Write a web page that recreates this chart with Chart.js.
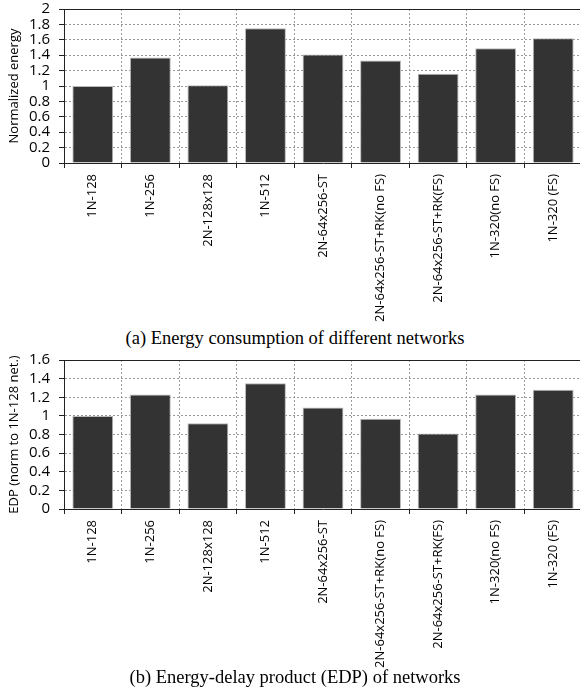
<!DOCTYPE html>
<html>
<head>
<meta charset="utf-8">
<script src="https://cdn.jsdelivr.net/npm/chart.js@4/dist/chart.umd.min.js"></script>
<style>
html,body{margin:0;padding:0;background:#fff;width:580px;height:692px;overflow:hidden;position:relative;}
.wrap{position:absolute;left:0;}
.cap{position:absolute;left:0;width:590px;text-align:center;font-family:"Liberation Serif","Times New Roman",serif;font-size:18.5px;color:#000;white-space:nowrap;}
</style>
</head>
<body>
<div class="wrap" id="w1" style="top:0;width:584px;height:323px;"><canvas id="c1"></canvas></div>
<div class="cap" style="top:328px;">(a) Energy consumption of different networks</div>
<div class="wrap" id="w2" style="top:350px;width:584px;height:319px;"><canvas id="c2"></canvas></div>
<div class="cap" style="top:667px;">(b) Energy-delay product (EDP) of networks</div>
<script>
const categories = ['1N-128','1N-256','2N-128x128','1N-512','2N-64x256-ST','2N-64x256-ST+RK(no FS)','2N-64x256-ST+RK(FS)','1N-320(no FS)','1N-320 (FS)'];
const energyValues = [1.0, 1.37, 1.01, 1.75, 1.41, 1.33, 1.16, 1.49, 1.62];
const edpValues = [1.0, 1.23, 0.92, 1.35, 1.09, 0.97, 0.81, 1.23, 1.28];
const energyTicks = ['0','0.2','0.4','0.6','0.8','1','1.2','1.4','1.6','1.8','2'];
const edpTicks = ['0','0.2','0.4','0.6','0.8','1','1.2','1.4','1.6'];
const energyTitle = 'Normalized energy';
const edpTitle = 'EDP (norm to 1N-128 net.)';

const topBorder = {
  id:'topBorder',
  afterDraw(chart){
    const a = chart.chartArea, ctx = chart.ctx;
    ctx.save();
    ctx.strokeStyle = '#222';
    ctx.lineWidth = 1;
    ctx.beginPath();
    const y = Math.round(a.top) + 0.5;
    ctx.moveTo(a.left, y);
    ctx.lineTo(a.right, y);
    ctx.stroke();
    ctx.restore();
  }
};

function makeChart(id, values, tickLabels, maxV, title, padTop){
  return new Chart(document.getElementById(id), {
    type:'bar',
    data:{
      labels: categories,
      datasets:[{
        data: values,
        backgroundColor:'#333333',
        borderColor:'#b8b8b8',
        borderWidth:1,
        barPercentage:0.71,
        categoryPercentage:1.0
      }]
    },
    options:{
      responsive:true,
      maintainAspectRatio:false,
      animation:false,
      devicePixelRatio:1,
      layout:{padding:{top:padTop,right:2,left:0,bottom:0}},
      plugins:{legend:{display:false},tooltip:{enabled:false}},
      scales:{
        x:{
          offset:true,
          grid:{offset:true,color:'#9a9a9a',lineWidth:1,drawTicks:true,tickLength:5,tickColor:'#222',tickBorderDash:[]},
          border:{display:true,color:'#222',width:1,dash:[2,2]},
          ticks:{color:'#000',font:{family:'"Open Sans"',size:13},minRotation:90,maxRotation:90,padding:6,autoSkip:false},
          afterFit(s){s.height=160;s.paddingLeft=0;s.paddingRight=0;}
        },
        y:{
          min:0,max:maxV,
          ticks:{stepSize:0.2,autoSkip:false,color:'#000',font:{family:'"Open Sans"',size:15},padding:9,
            callback:(v,i)=>tickLabels[i]},
          grid:{color:'#9a9a9a',lineWidth:1,drawTicks:true,tickLength:5,tickColor:'#222',tickBorderDash:[]},
          border:{display:true,color:'#222',width:1,dash:[2,2]},
          title:{display:true,text:title,color:'#000',font:{family:'"Open Sans"',size:13},padding:{top:6,bottom:0}},
          afterFit(s){s.width=64;s.paddingTop=0;s.paddingBottom=0;}
        }
      }
    },
    plugins:[topBorder]
  });
}
makeChart('c1', energyValues, energyTicks, 2, energyTitle, 9);
makeChart('c2', edpValues, edpTicks, 1.6, edpTitle, 10);
</script>
</body>
</html>
